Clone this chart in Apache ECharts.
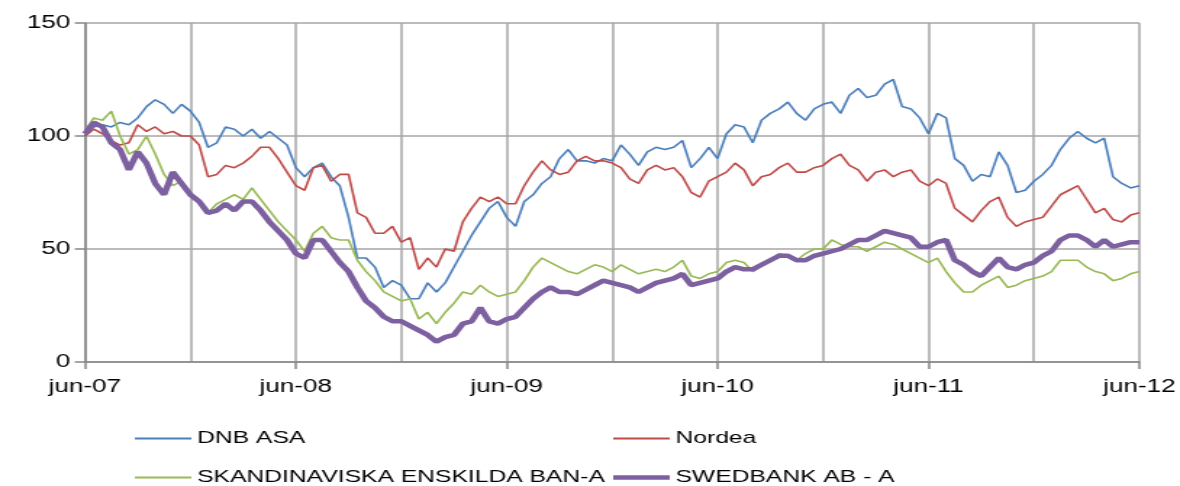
<!DOCTYPE html>
<html>
<head>
<meta charset="utf-8">
<script src="https://cdn.jsdelivr.net/npm/echarts@6/dist/echarts.min.js"></script>
<style>
  html, body { margin: 0; padding: 0; background: #fff; overflow: hidden; }
  /* the original picture is a horizontally stretched excel chart */
  #chart { width: 814px; height: 486px; transform: scaleX(1.4496); transform-origin: 0 0; }
</style>
</head>
<body>
<div id="chart"></div>
<script>
// x-axis tick labels (one per year, every 12 months)
const xLabels = ["jun-07", "jun-08", "jun-09", "jun-10", "jun-11", "jun-12"];

// index values, one reading every half month from jun-07 to jun-12
const dnb = [
  100, 104, 105, 104, 106, 105, 108, 113, 116, 114, 110, 114, 111, 106, 95, 97, 104, 103, 100, 103, 99, 102, 99, 96, 86,
  82, 86, 88, 82, 78, 64, 46, 46, 42, 33, 36, 34, 28, 28, 35, 31, 35, 42, 49, 56, 62, 68, 71, 64,
  60, 71, 74, 79, 82, 90, 94, 89, 89, 88, 90, 89, 96, 92, 87, 93, 95, 94, 95, 98, 86, 90, 95, 90,
  101, 105, 104, 97, 107, 110, 112, 115, 110, 107, 112, 114, 115, 110, 118, 121, 117, 118, 123, 125, 113, 112, 108, 101,
  110, 108, 90, 87, 80, 83, 82, 93, 87, 75, 76, 80, 83, 87, 94, 99, 102, 99, 97, 99, 82, 79, 77, 78
];
const nordea = [
  100, 103, 101, 98, 96, 97, 105, 102, 104, 101, 102, 100, 100, 96, 82, 83, 87, 86, 88, 91, 95, 95, 90, 84, 78,
  76, 86, 87, 80, 83, 83, 66, 64, 57, 57, 60, 53, 55, 41, 46, 42, 50, 49, 62, 68, 73, 71, 73, 70,
  70, 78, 84, 89, 85, 83, 84, 89, 91, 89, 89, 88, 86, 81, 79, 85, 87, 85, 86, 82, 75, 73, 80, 82,
  84, 88, 85, 78, 82, 83, 86, 88, 84, 84, 86, 87, 90, 92, 87, 85, 80, 84, 85, 82, 84, 85, 80, 78,
  81, 79, 68, 65, 62, 67, 71, 73, 64, 60, 62, 63, 64, 69, 74, 76, 78, 72, 66, 68, 63, 62, 65, 66
];
const seb = [
  102, 108, 107, 111, 100, 92, 94, 100, 92, 83, 78, 80, 75, 71, 66, 70, 72, 74, 72, 77, 72, 67, 62, 58, 54,
  49, 57, 60, 55, 54, 54, 45, 40, 36, 31, 29, 27, 28, 19, 22, 17, 22, 26, 31, 30, 34, 31, 29, 30,
  31, 36, 42, 46, 44, 42, 40, 39, 41, 43, 42, 40, 43, 41, 39, 40, 41, 40, 42, 45, 38, 37, 39, 40,
  44, 45, 44, 40, 43, 45, 48, 47, 45, 48, 50, 50, 54, 52, 51, 51, 49, 51, 53, 52, 50, 48, 46, 44,
  46, 40, 35, 31, 31, 34, 36, 38, 33, 34, 36, 37, 38, 40, 45, 45, 45, 42, 40, 39, 36, 37, 39, 40
];
const swedbank = [
  101, 106, 104, 97, 94, 85, 93, 88, 79, 74, 84, 79, 74, 71, 66, 67, 70, 67, 71, 71, 67, 62, 58, 54, 48,
  46, 54, 54, 49, 44, 40, 33, 27, 24, 20, 18, 18, 16, 14, 12, 9, 11, 12, 17, 18, 24, 18, 17, 19,
  20, 24, 28, 31, 33, 31, 31, 30, 32, 34, 36, 35, 34, 33, 31, 33, 35, 36, 37, 39, 34, 35, 36, 37,
  40, 42, 41, 41, 43, 45, 47, 47, 45, 45, 47, 48, 49, 50, 52, 54, 54, 56, 58, 57, 56, 55, 51, 51,
  53, 54, 45, 43, 40, 38, 42, 46, 42, 41, 43, 44, 47, 49, 54, 56, 56, 54, 51, 54, 51, 52, 53, 53
];

const names = ["DNB ASA", "Nordea", "SKANDINAVISKA ENSKILDA BAN-A", "SWEDBANK AB - A"];
const colors = ["#4a7ebb", "#be4b48", "#98b954", "#7d60a0"];

// months since jun-07 for each reading
const months = dnb.map((_, i) => i / 2);
const pairs = (arr) => arr.map((v, i) => [months[i], v]);

const font = "Liberation Sans";
let mcharts = echarts.init(document.querySelector("#chart"));

function legendItem(i, left, top, thick) {
  return {
    data: [names[i]],
    left: left,
    top: top,
    padding: 0,
    icon: "rect",
    itemWidth: 39,
    itemHeight: thick,
    textStyle: { fontFamily: font, fontSize: 17, color: "#000", padding: [0, 0, 0, -1] },
    selectedMode: false,
  };
}

let option = {
  animation: false,
  color: colors,
  grid: { left: 58.6, right: 27.6, top: 23, bottom: 124 },
  legend: [
    legendItem(0, 93, 430, 2),
    legendItem(1, 423, 430, 2),
    legendItem(2, 93, 469, 2),
    legendItem(3, 423, 469, 4.5),
  ],
  xAxis: [
    {
      type: "value",
      min: 0,
      max: 60,
      interval: 12,
      axisLine: { lineStyle: { color: "#868686", width: 1.5 } },
      axisTick: { show: true, length: 7, lineStyle: { color: "#868686", width: 1.5 } },
      axisLabel: {
        margin: 16,
        fontFamily: font,
        fontSize: 18,
        color: "#000",
        formatter: (v) => xLabels[v / 12],
      },
      splitLine: { show: false },
    },
    {
      // half-year grid lines
      type: "value",
      min: 0,
      max: 60,
      interval: 6,
      axisLine: { show: false },
      axisTick: { show: false },
      axisLabel: { show: false },
      splitLine: { lineStyle: { color: "#a6a6a6", width: 1.5 } },
    },
  ],
  yAxis: {
    type: "value",
    min: 0,
    max: 150,
    interval: 50,
    axisLine: { show: true, lineStyle: { color: "#868686", width: 1.5 } },
    axisTick: { show: true, length: 7, lineStyle: { color: "#868686", width: 1.5 } },
    axisLabel: { margin: 10, fontFamily: font, fontSize: 18, color: "#000" },
    splitLine: { lineStyle: { color: "#a6a6a6", width: 1.5 } },
  },
  series: [
    { name: names[0], type: "line", showSymbol: false, lineStyle: { width: 1.6 }, data: pairs(dnb), z: 2 },
    { name: names[1], type: "line", showSymbol: false, lineStyle: { width: 1.6 }, data: pairs(nordea), z: 2 },
    { name: names[2], type: "line", showSymbol: false, lineStyle: { width: 1.6 }, data: pairs(seb), z: 2 },
    { name: names[3], type: "line", showSymbol: false, lineStyle: { width: 4.5 }, data: pairs(swedbank), z: 3 },
  ],
};

mcharts.setOption(option);
</script>
</body>
</html>
